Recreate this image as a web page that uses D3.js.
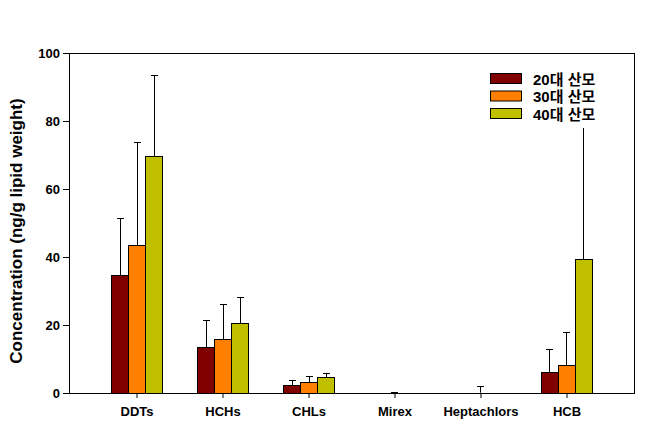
<!DOCTYPE html>
<html lang="ko">
<head>
<meta charset="utf-8">
<title>OC concentration by age group</title>
<script src="https://cdn.jsdelivr.net/npm/d3@7"></script>
<style>
  body { margin: 0; background: #fff; }
  text { font-family: Arial, "Liberation Sans", "Noto Sans CJK KR", sans-serif; font-weight: bold; }
</style>
</head>
<body>
<script>
// compounds on the x axis
const categories = ["DDTs", "HCHs", "CHLs", "Mirex", "Heptachlors", "HCB"];
const seriesNames = ["20대 산모", "30대 산모", "40대 산모"];
// mean concentrations (ng/g lipid weight)
const mean20 = [34.7, 13.5, 2.3, 0, 0, 6.1];
const mean30 = [43.5, 15.8, 3.1, 0.05, 0.1, 8.2];
const mean40 = [69.6, 20.5, 4.6, 0, 0, 39.3];
// standard deviations (upper error bars)
const sd20 = [16.7, 7.9, 1.4, 0, 0, 6.8];
const sd30 = [30.2, 10.3, 1.8, 0.15, 1.9, 9.7];
const sd40 = [23.8, 7.6, 1.2, 0, 0, 48];
const yTicks = [0, 20, 40, 60, 80, 100];
const colors = ["#800000", "#ff8000", "#c0c000"];

var width = 664, height = 437;
var mLeft = 69, mRight = 634, mTop = 53, mBottom = 393;

var svg = d3.select("body").append("svg")
    .attr("width", width)
    .attr("height", height);

var x = d3.scalePoint()
    .domain(categories)
    .range([mLeft, mRight])
    .padding(0.785);

var xs = d3.scaleBand()
    .domain(seriesNames)
    .range([-25.5, 25.5]);

var y = d3.scaleLinear()
    .domain([0, 100])
    .range([mBottom, mTop]);

var means = [mean20, mean30, mean40];
var sds = [sd20, sd30, sd40];

// flatten into bar records
var bars = [];
seriesNames.forEach(function (s, i) {
    categories.forEach(function (c, j) {
        bars.push({ cat: c, series: s, idx: i, value: means[i][j], sd: sds[i][j] });
    });
});

function cx(d) { return Math.round(x(d.cat) + xs(d.series) + xs.bandwidth() / 2); }

// error bars (drawn first so bars sit on top)
var err = svg.append("g").selectAll("g")
    .data(bars.filter(function (d) { return d.sd > 0; }))
    .enter().append("g")
    .attr("stroke", "#000")
    .attr("stroke-width", 1);

err.append("line")
    .attr("x1", function (d) { return cx(d) + 0.5; })
    .attr("x2", function (d) { return cx(d) + 0.5; })
    .attr("y1", function (d) { return y(d.value); })
    .attr("y2", function (d) { return Math.round(y(d.value + d.sd)) + 0.5; });

err.append("line")
    .attr("x1", function (d) { return cx(d) - 3; })
    .attr("x2", function (d) { return cx(d) + 4; })
    .attr("y1", function (d) { return Math.round(y(d.value + d.sd)) + 0.5; })
    .attr("y2", function (d) { return Math.round(y(d.value + d.sd)) + 0.5; });

svg.append("g").selectAll("rect")
    .data(bars.filter(function (d) { return d.value > 0.5; }))
    .enter().append("rect")
    .attr("x", function (d) { return Math.round(x(d.cat) + xs(d.series)) + 0.5; })
    .attr("y", function (d) { return Math.round(y(d.value)) + 0.5; })
    .attr("width", xs.bandwidth())
    .attr("height", function (d) { return mBottom - Math.round(y(d.value)); })
    .attr("fill", function (d) { return colors[d.idx]; })
    .attr("stroke", "#000")
    .attr("stroke-width", 1);

// axes
var yAxis = svg.append("g")
    .attr("transform", "translate(" + mLeft + ",0)")
    .call(d3.axisLeft(y).tickValues(yTicks).tickSize(6).tickPadding(3));
yAxis.select(".domain").remove();
yAxis.selectAll("text").attr("font-size", 13).attr("font-family", null).attr("fill", "#000");

var xAxis = svg.append("g")
    .attr("transform", "translate(0," + mBottom + ")")
    .call(d3.axisBottom(x).tickSize(5).tickPadding(9));
xAxis.select(".domain").remove();
xAxis.selectAll("text").attr("font-size", 13).attr("font-family", null).attr("fill", "#000");

// frame
svg.append("rect")
    .attr("x", mLeft + 0.5)
    .attr("y", mTop + 0.5)
    .attr("width", mRight - mLeft)
    .attr("height", mBottom - mTop)
    .attr("fill", "none")
    .attr("stroke", "#000")
    .attr("stroke-width", 1);

// y title
svg.append("text")
    .attr("transform", "translate(16," + 231 + ")rotate(-90)")
    .attr("text-anchor", "middle")
    .attr("dominant-baseline", "central")
    .attr("font-size", 17)
    .text("Concentration (ng/g lipid weight)");

// legend
var legend = svg.append("g").attr("transform", "translate(490,73)");
legend.append("rect")
    .attr("x", -4).attr("y", -7)
    .attr("width", 116).attr("height", 62)
    .attr("fill", "#fff");
var item = legend.selectAll("g.item")
    .data(seriesNames)
    .enter().append("g")
    .attr("class", "item")
    .attr("transform", function (d, i) { return "translate(0," + (i * 17.5) + ")"; });
item.append("rect")
    .attr("x", 0.5).attr("y", 0.5)
    .attr("width", 31).attr("height", 10)
    .attr("fill", function (d, i) { return colors[i]; })
    .attr("stroke", "#000");
item.append("text")
    .attr("x", 43)
    .attr("y", 6)
    .attr("dominant-baseline", "central")
    .attr("font-size", 15)
    .text(function (d) { return d; });
</script>
</body>
</html>
